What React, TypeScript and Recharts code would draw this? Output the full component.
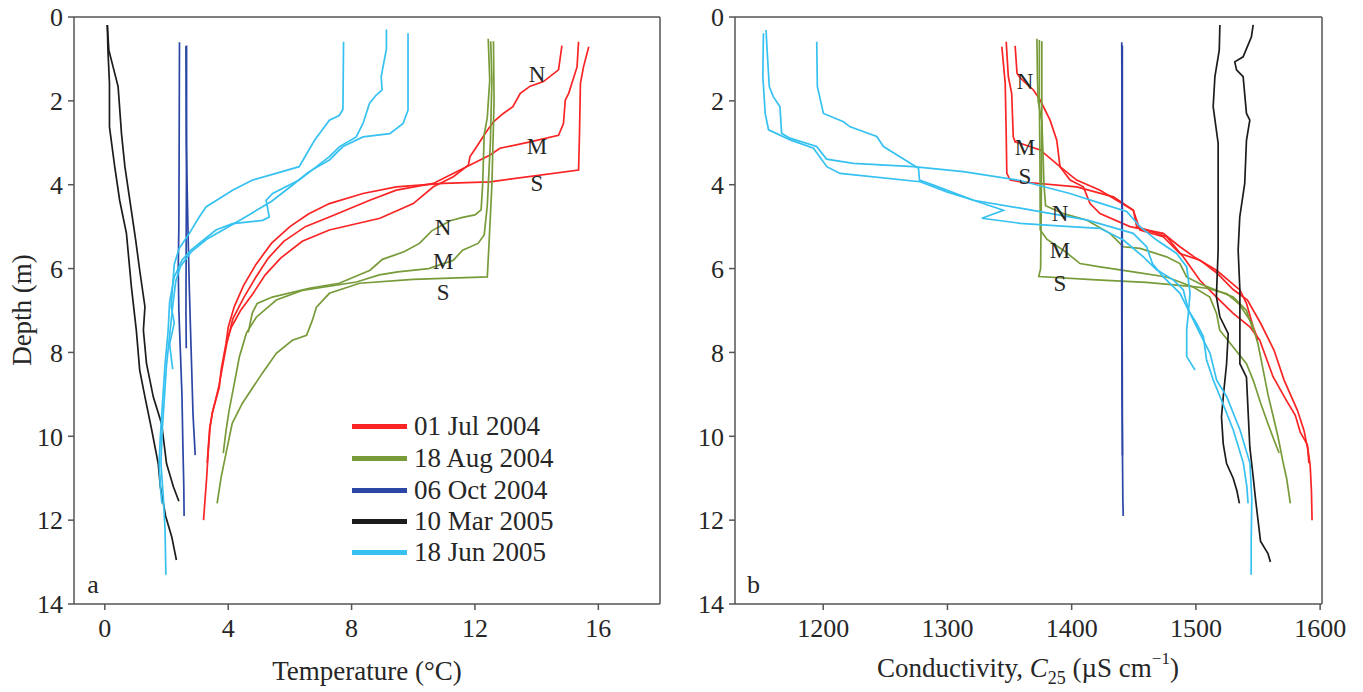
import React from 'react';
import { ScatterChart, Scatter, XAxis, YAxis } from 'recharts';

type Pt = [number, number];

const FONT = '"Liberation Serif", "Times New Roman", serif';
const AXIS = '#555555';
const TEXT = '#262626';

const seriesNames = ['01 Jul 2004', '18 Aug 2004', '06 Oct 2004', '10 Mar 2005', '18 Jun 2005'];
const seriesColors = ['#fa2424', '#789b3a', '#2c46a6', '#1c1c1c', '#36c1f1'];

const depthTicks = [0, 2, 4, 6, 8, 10, 12, 14];
const depthDomain = [0, 14];
const tempTicks = [0, 4, 8, 12, 16];
const tempDomain = [-1, 18];
const condTicks = [1200, 1300, 1400, 1500, 1600];
const condDomain = [1129, 1601.5];

// ---- Temperature profiles [value, depth] ----
const tempJulN: Pt[] = [[14.82,0.68],[14.71,1.26],[14.22,1.54],[13.79,1.65],[13.47,1.82],[13.23,2.14],[12.92,2.3],[12.6,2.5],[12.33,2.78],[12.06,3.09],[11.84,3.33],[11.79,3.53],[11.3,3.81],[10.65,4.05],[10.0,4.45],[8.92,4.8],[7.28,5.08],[6.4,5.35],[5.7,5.75],[5.2,6.15],[4.8,6.6],[4.4,7.0],[4.1,7.4],[3.95,7.75]];
const tempJulM: Pt[] = [[15.36,0.59],[15.31,1.19],[15.04,1.82],[14.93,1.98],[14.87,2.54],[14.71,2.82],[13.79,2.98],[12.81,3.13],[12.49,3.29],[11.73,3.57],[11.08,3.81],[10.65,3.97],[9.45,4.13],[8.59,4.37],[7.28,4.77],[6.5,5.0],[5.8,5.35],[5.3,5.75],[4.9,6.2],[4.5,6.7],[4.15,7.2],[3.95,7.8],[3.8,8.4],[3.7,8.8],[3.5,9.4],[3.4,9.8],[3.35,10.3],[3.32,10.64]];
const tempJulS: Pt[] = [[15.69,0.71],[15.52,1.19],[15.42,1.58],[15.39,2.78],[15.36,3.65],[12.49,3.93],[10.97,3.97],[9.45,4.05],[8.37,4.21],[7.28,4.45],[6.6,4.7],[6.0,5.0],[5.4,5.4],[4.9,5.9],[4.5,6.4],[4.2,6.9],[4.0,7.4],[3.93,7.78],[3.77,8.42],[3.71,8.83],[3.48,9.45],[3.41,9.8],[3.35,10.4],[3.3,11.0],[3.25,11.5],[3.2,12.0]];

const tempAugN: Pt[] = [[12.43,0.52],[12.48,1.5],[12.4,2.4],[12.3,2.8],[12.25,4.0],[12.2,4.6],[12.0,4.72],[11.6,4.78],[11.2,4.86],[10.6,5.1],[10.2,5.4],[9.7,5.6],[9.0,5.78],[8.6,6.04],[7.6,6.35],[6.63,6.47],[5.43,6.68],[4.94,6.83],[4.78,7.06],[4.65,7.52]];
const tempAugM: Pt[] = [[12.51,0.58],[12.55,1.5],[12.5,3.0],[12.4,4.5],[12.3,5.2],[12.1,5.4],[11.6,5.56],[11.3,5.8],[10.5,6.0],[9.5,6.08],[8.9,6.15],[8.16,6.32],[6.4,6.52],[5.56,6.75],[4.91,7.16],[4.59,7.54],[4.36,8.11],[4.2,8.73],[4.03,9.38],[3.93,9.86],[3.84,10.4]];
const tempAugS: Pt[] = [[12.6,0.58],[12.62,2.0],[12.55,4.0],[12.45,5.5],[12.4,6.2],[10.0,6.26],[8.26,6.35],[7.28,6.59],[6.86,6.92],[6.73,7.23],[6.54,7.59],[6.08,7.71],[5.56,8.02],[5.1,8.5],[4.46,9.21],[4.13,9.69],[3.97,10.26],[3.77,10.98],[3.64,11.6]];

const tempOctA: Pt[] = [[2.42,0.6],[2.41,3.0],[2.4,5.0],[2.38,6.0],[2.4,7.0],[2.45,8.0],[2.5,9.0],[2.53,10.2],[2.56,11.2],[2.57,11.9]];
const tempOctB: Pt[] = [[2.65,0.68],[2.65,3.0],[2.64,5.0],[2.63,7.0],[2.64,7.9]];
const tempOctC: Pt[] = [[2.63,0.7],[2.64,3.0],[2.7,5.2],[2.74,6.5],[2.8,8.0],[2.86,9.5],[2.93,10.45]];

const tempMarA: Pt[] = [[0.08,0.19],[0.1,0.79],[0.15,1.58],[0.15,2.62],[0.32,3.57],[0.48,4.37],[0.7,5.16],[0.86,6.43],[1.02,7.47],[1.13,8.42],[1.3,9.06],[1.52,9.85],[1.73,10.65],[1.8,11.2],[1.97,11.9],[2.17,12.4],[2.32,12.95]];
const tempMarB: Pt[] = [[0.08,0.19],[0.13,0.79],[0.43,1.66],[0.54,2.78],[0.65,3.57],[0.81,4.37],[1.0,5.32],[1.13,6.04],[1.3,6.91],[1.25,7.47],[1.35,8.26],[1.57,9.06],[1.84,9.7],[2.0,10.65],[2.22,11.2],[2.4,11.55]];

const tempJunA: Pt[] = [[7.74,0.59],[7.72,2.2],[7.6,2.35],[7.28,2.46],[6.8,2.94],[6.3,3.57],[5.55,3.73],[4.79,3.89],[4.14,4.13],[3.28,4.53],[3.06,4.77],[2.74,5.16],[2.41,5.52],[2.25,5.9],[2.2,6.4],[2.15,6.9],[2.25,7.3],[2.1,7.8],[2.2,8.4]];
const tempJunB: Pt[] = [[9.13,0.3],[9.13,0.76],[8.96,1.42],[8.99,1.74],[8.8,1.86],[8.58,2.06],[8.37,2.54],[8.15,2.86],[7.61,3.09],[7.28,3.33],[6.3,3.89],[5.44,4.21],[5.23,4.37],[5.33,4.77],[5.12,4.85],[4.14,4.93],[3.6,5.08],[3.06,5.4],[2.79,5.56],[2.5,5.8],[2.25,6.2],[2.1,6.8],[2.05,7.5],[1.95,8.3],[1.87,9.2],[1.8,10.0],[1.76,10.65],[1.8,11.2],[1.85,11.6]];
const tempJunC: Pt[] = [[9.83,0.39],[9.83,2.22],[9.67,2.54],[9.24,2.78],[8.37,2.86],[7.72,3.09],[7.28,3.41],[6.6,3.7],[6.1,4.0],[5.4,4.4],[4.6,4.75],[3.9,5.05],[3.3,5.3],[2.8,5.6],[2.45,5.95],[2.3,6.3],[2.2,6.9],[2.1,7.6],[2.0,8.3],[1.92,9.2],[1.85,10.0],[1.82,10.65],[1.9,11.5],[1.95,12.2],[1.98,13.3]];

// ---- Conductivity profiles [value, depth] ----
const condJulN: Pt[] = [[1354.5,0.69],[1356,1.34],[1358.5,1.45],[1362,1.55],[1369.2,1.74],[1374.6,1.98],[1382.6,2.46],[1388,2.94],[1390.6,3.57],[1398.7,3.89],[1409.4,4.05],[1414.8,4.45],[1422.8,4.69],[1446.9,5.0],[1473.7,5.16],[1487.1,5.48],[1500,5.75],[1516.6,6.04],[1535.4,6.51],[1540.7,6.83],[1546.1,7.39],[1550,7.7]];
const condJulM: Pt[] = [[1347.3,0.59],[1349,1.42],[1351.7,1.82],[1353,2.86],[1354.5,2.98],[1358.5,3.01],[1374.6,3.17],[1390.6,3.57],[1404,3.89],[1422.8,4.13],[1449.6,4.61],[1455,5.08],[1473.7,5.24],[1487.1,5.64],[1503.2,5.8],[1516.6,6.1],[1530,6.5],[1541.5,6.75],[1552.2,7.31],[1562.9,7.95],[1571,8.66],[1581.7,9.38],[1587,9.86],[1590,10.3],[1591,10.64]];
const condJulS: Pt[] = [[1343.8,0.71],[1346.5,1.58],[1347.3,2.78],[1347.8,3.73],[1350.5,3.89],[1358.5,3.93],[1404,4.05],[1433.6,4.29],[1449.7,4.61],[1452.3,5.0],[1476.4,5.24],[1489.8,5.72],[1503.2,6.28],[1516.6,6.68],[1530,7.07],[1543.4,7.39],[1551.4,7.71],[1562.1,8.58],[1572,9.1],[1580,9.5],[1584,9.9],[1589.7,10.2],[1592,10.7],[1593,11.3],[1593.5,12.0]];

const condAugN: Pt[] = [[1372,0.52],[1372.5,1.5],[1373,2.0],[1376,2.5],[1377,3.3],[1377.7,4.0],[1379,4.5],[1393.3,4.69],[1412,4.84],[1430.8,5.16],[1441.6,5.48],[1455,5.52],[1476.4,5.72],[1487.1,5.88],[1492.5,6.2],[1503.2,6.36],[1516.6,6.52],[1530,6.68],[1540.7,7.0],[1546.1,7.47]];
const condAugM: Pt[] = [[1374,0.55],[1374,2.0],[1374.5,3.5],[1374.7,5.08],[1380,5.3],[1395,5.6],[1406.7,5.88],[1422.8,5.96],[1449.6,6.08],[1476.4,6.2],[1497.8,6.44],[1511.2,6.68],[1516.6,7.07],[1519.2,7.47],[1530,7.87],[1540.7,8.27],[1546.1,8.66],[1552,9.2],[1558,9.7],[1563,10.1],[1567,10.4]];
const condAugS: Pt[] = [[1376,0.58],[1376,2.5],[1375.5,4.5],[1375,6.0],[1373.5,6.19],[1420,6.27],[1460,6.33],[1497.9,6.43],[1508.7,6.47],[1525,6.6],[1535,6.85],[1545,7.3],[1550,7.8],[1554,8.4],[1558,9.0],[1562,9.5],[1566,10.0],[1570,10.6],[1573,11.0],[1576,11.6]];

const condOctA: Pt[] = [[1440.3,0.6],[1440.6,3.0],[1440.2,6.0],[1440.5,9.0],[1441.2,11.5],[1441.5,11.9]];
const condOctB: Pt[] = [[1440.8,0.68],[1440.8,4.0],[1440.6,7.9]];
const condOctC: Pt[] = [[1440.5,0.7],[1440.4,5.0],[1440.7,8.0],[1440.9,10.45]];

const condMarA: Pt[] = [[1519.3,0.19],[1518.8,0.79],[1515.3,1.42],[1513.9,2.14],[1517.9,3.01],[1517.9,4.37],[1517.9,5.56],[1516.5,6.67],[1519.3,7.15],[1526,7.55],[1524.7,8.27],[1522,9.06],[1520.6,9.54],[1522,10.18],[1524.7,10.65],[1530,11.0],[1533,11.3],[1535,11.6]];
const condMarB: Pt[] = [[1546.1,0.19],[1544.7,0.47],[1538,0.95],[1531.3,1.07],[1532.7,1.26],[1538,1.42],[1540.7,2.3],[1543.4,2.46],[1540.7,2.94],[1539.3,3.97],[1535.3,4.77],[1534,5.56],[1535.4,6.51],[1535.4,8.27],[1540.7,8.59],[1542.1,9.46],[1543.4,10.26],[1546.1,10.97],[1548,11.5],[1550,12.0],[1552,12.5],[1558,12.8],[1560,13.0]];

const condJunA: Pt[] = [[1154,0.31],[1155,0.87],[1156.6,1.66],[1159.8,1.9],[1165.2,2.14],[1166.5,2.77],[1173.2,2.89],[1194.7,3.09],[1202.7,3.39],[1224.2,3.49],[1272.5,3.57],[1312.8,3.69],[1358.4,3.9],[1398.6,4.21],[1422.8,4.44],[1444.3,4.64],[1455,5.0],[1468.4,5.32],[1484.5,5.64],[1492.6,5.96],[1495.3,6.59],[1493.9,7.07],[1492.6,7.46],[1492.6,8.1],[1499.3,8.42]];
const condJunB: Pt[] = [[1151.9,0.39],[1151.4,1.42],[1153.3,2.3],[1156,2.69],[1173.4,2.93],[1192.2,3.13],[1202.9,3.57],[1213.6,3.73],[1278,3.93],[1299.5,4.17],[1321,4.37],[1345.1,4.61],[1327.7,4.8],[1358.6,4.92],[1398.6,5.0],[1422.8,5.04],[1441.6,5.32],[1457.7,5.72],[1468.4,6.03],[1481.8,6.27],[1489.9,6.51],[1493.9,6.99],[1500.6,7.31],[1506,7.62],[1508.6,8.18],[1514,8.66],[1519.4,9.05],[1530.1,9.85],[1538.2,10.64],[1541,11.2],[1542,11.6]];
const condJunC: Pt[] = [[1194.8,0.59],[1195.3,1.66],[1200.2,2.3],[1216.3,2.5],[1221.7,2.62],[1243.1,2.85],[1248.5,3.09],[1276.7,3.61],[1277.5,3.89],[1288.8,4.01],[1321,4.37],[1358.6,4.56],[1412,4.84],[1449.5,5.16],[1460.3,5.48],[1465,5.88],[1473.8,6.2],[1487.2,6.59],[1495.3,7.07],[1503.3,7.55],[1511.4,8.02],[1516.7,8.66],[1524.7,9.05],[1535.5,9.85],[1543.5,10.64],[1545,11.5],[1544.5,12.5],[1544.5,13.3]];

// ---- text annotations ----
const tempNotes = [
  { x: 14.01, y: 1.38, t: 'N' }, { x: 14.01, y: 3.1, t: 'M' }, { x: 14.01, y: 3.96, t: 'S' },
  { x: 10.97, y: 5.03, t: 'N' }, { x: 10.97, y: 5.84, t: 'M' }, { x: 10.97, y: 6.56, t: 'S' },
  { x: -0.38, y: 13.74, t: 'a', base: true },
];
const condNotes = [
  { x: 1362.4, y: 1.54, t: 'N' }, { x: 1362.4, y: 3.11, t: 'M' }, { x: 1362.4, y: 3.81, t: 'S' },
  { x: 1390.6, y: 4.68, t: 'N' }, { x: 1390.6, y: 5.56, t: 'M' }, { x: 1390.6, y: 6.35, t: 'S' },
  { x: 1143.9, y: 13.74, t: 'b', base: true },
];

const tempProfiles: Pt[][][] = [
  [tempJulN, tempJulM, tempJulS],
  [tempAugN, tempAugM, tempAugS],
  [tempOctA, tempOctB, tempOctC],
  [tempMarA, tempMarB],
  [tempJunA, tempJunB, tempJunC],
];
const condProfiles: Pt[][][] = [
  [condJulN, condJulM, condJulS],
  [condAugN, condAugM, condAugS],
  [condOctA, condOctB, condOctC],
  [condMarA, condMarB],
  [condJunA, condJunB, condJunC],
];

const toRows = (pts: Pt[]) => pts.map(([v, d]) => ({ x: v, y: d }));
const NoDot = () => <g />;

const Annot = (props: any) => {
  const { cx, cy, payload } = props;
  if (payload.base) {
    return <text x={cx} y={cy} textAnchor="middle" fontSize={26} fill={TEXT} fontFamily={FONT}>{payload.t}</text>;
  }
  return (
    <text x={cx} y={cy} textAnchor="middle" dominantBaseline="central" fontSize={23} fill={TEXT} fontFamily={FONT}>
      {payload.t}
    </text>
  );
};

const axisLine = { stroke: AXIS, strokeWidth: 1.5 };
const tickStyle = { fontSize: 26, fill: TEXT, fontFamily: FONT };

function Panel(props: {
  width: number; height: number; margin: any; yAxisWidth: number;
  xDomain: number[]; xTicks: number[]; groups: Pt[][][]; notes: any[];
}) {
  const { width, height, margin, yAxisWidth, xDomain, xTicks, groups, notes } = props;
  return (
    <ScatterChart width={width} height={height} margin={margin} style={{ fontFamily: FONT }}>
      <XAxis type="number" dataKey="x" domain={xDomain} ticks={xTicks} allowDataOverflow interval={0}
        height={60} tickSize={6} tickMargin={9} axisLine={axisLine} tickLine={axisLine} tick={tickStyle} />
      <XAxis xAxisId="top" orientation="top" type="number" dataKey="x" domain={xDomain} ticks={xTicks}
        allowDataOverflow interval={0} height={10} tickSize={6} axisLine={axisLine} tickLine={axisLine} tick={false} />
      <YAxis type="number" dataKey="y" reversed domain={depthDomain} ticks={depthTicks} allowDataOverflow interval={0}
        width={yAxisWidth} tickSize={6} tickMargin={5} axisLine={axisLine} tickLine={axisLine} tick={tickStyle} />
      <YAxis yAxisId="right" orientation="right" type="number" dataKey="y" reversed domain={depthDomain} ticks={depthTicks}
        allowDataOverflow interval={0} width={10} tickSize={6} axisLine={axisLine} tickLine={axisLine} tick={false} />
      {groups.map((group, gi) =>
        group.map((pts, pi) => (
          <Scatter key={`${gi}-${pi}`} data={toRows(pts)} fill={seriesColors[gi]}
            line={{ stroke: seriesColors[gi], strokeWidth: 1.7 }} lineType="joint"
            shape={NoDot} isAnimationActive={false} />
        ))
      )}
      <Scatter data={notes} shape={Annot} isAnimationActive={false} />
    </ScatterChart>
  );
}

const legendRows = [426, 458, 490, 521, 552];

export default function App() {
  return (
    <div style={{ position: 'absolute', left: 0, top: 0, width: 1363, height: 692, background: '#fff', fontFamily: FONT, overflow: 'hidden' }}>
      <div style={{ position: 'absolute', left: 0, top: 0 }}>
        <Panel width={680} height={692} margin={{ top: 7, right: 10, bottom: 28, left: 14 }} yAxisWidth={60}
          xDomain={tempDomain} xTicks={tempTicks} groups={tempProfiles} notes={tempNotes} />
      </div>
      <div style={{ position: 'absolute', left: 680, top: 0 }}>
        <Panel width={683} height={692} margin={{ top: 7, right: 31, bottom: 28, left: 5 }} yAxisWidth={50}
          xDomain={condDomain} xTicks={condTicks} groups={condProfiles} notes={condNotes} />
      </div>
      {seriesNames.map((name, i) => (
        <div key={name} style={{ position: 'absolute', left: 352, top: legendRows[i] - 16, height: 32, display: 'flex', alignItems: 'center' }}>
          <div style={{ width: 55, height: 5, background: seriesColors[i] }} />
          <span style={{ marginLeft: 7, fontSize: 27, color: TEXT, lineHeight: '32px', whiteSpace: 'nowrap' }}>{name}</span>
        </div>
      ))}
      <svg width={1363} height={692} style={{ position: 'absolute', left: 0, top: 0, pointerEvents: 'none' }}>
        <text transform="translate(31,310) rotate(-90)" textAnchor="middle" fontSize={27} fill={TEXT} fontFamily={FONT}>Depth (m)</text>
        <text x={367} y={680} textAnchor="middle" fontSize={27} fill={TEXT} fontFamily={FONT}>Temperature (°C)</text>
        <text x={1028} y={677} textAnchor="middle" fontSize={27} fill={TEXT} fontFamily={FONT}>
          <tspan>Conductivity, </tspan>
          <tspan fontStyle="italic">C</tspan>
          <tspan fontSize={18} dy={7}>25</tspan>
          <tspan dy={-7}> (µS cm</tspan>
          <tspan fontSize={17} dy={-13}>−1</tspan>
          <tspan dy={13}>)</tspan>
        </text>
      </svg>
    </div>
  );
}
